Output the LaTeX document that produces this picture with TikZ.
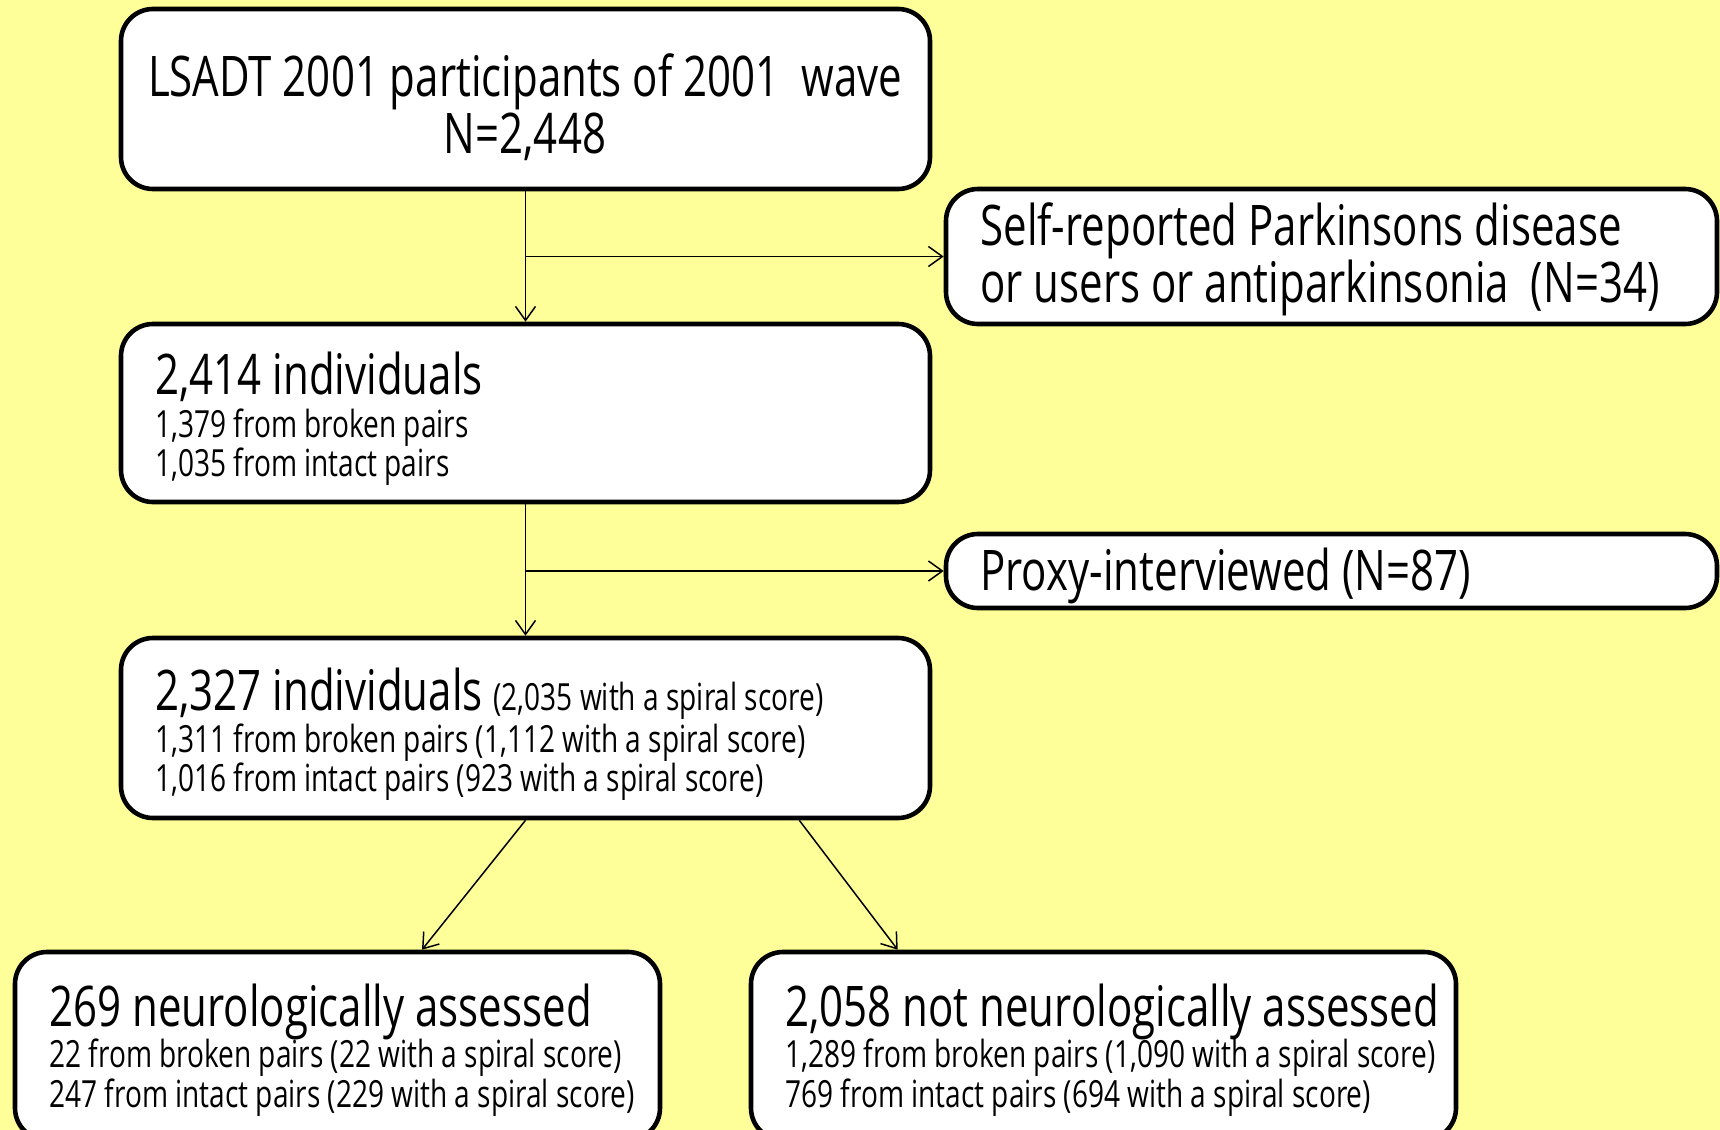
\documentclass[tikz,border=0pt]{standalone}
\usepackage{fontspec}
\setmainfont{Open Sans}[FakeStretch=0.75]
\usetikzlibrary{arrows.meta}
\definecolor{bgyellow}{HTML}{FFFF99}
\tikzset{
  box/.style={draw=black, line width=2.3pt, fill=white, rounded corners=16pt, inner sep=0pt},
  conn/.style={draw=black, line width=0.75pt, -{Straight Barb[length=7pt,width=10pt,line width=0.75pt]}},
  big/.style={font=\fontsize{28}{30}\selectfont, inner sep=0pt},
  sub/.style={font=\fontsize{18.7}{21}\selectfont, inner sep=0pt},
}
\begin{document}
\begin{tikzpicture}[x=0.5pt,y=-0.5pt]
\fill[bgyellow] (0,0) rectangle (1720,1130);
\useasboundingbox (0,0) rectangle (1720,1130);
\clip (0,0) rectangle (1720,1130);
% boxes
\node[box, minimum width=404.5pt, minimum height=90pt] (b1) at (525.5,99) {};
\node[box, minimum width=385.5pt, minimum height=67.5pt] (b2) at (1331.5,256.5) {};
\node[box, minimum width=404.5pt, minimum height=89pt] (b3) at (525.5,413) {};
\node[box, minimum width=385.5pt, minimum height=37pt] (b4) at (1331.5,571) {};
\node[box, minimum width=404.5pt, minimum height=90pt] (b5) at (525.5,728) {};
\node[box, minimum width=322.5pt, minimum height=94pt] (b6) at (337.5,1046) {};
\node[box, minimum width=352.5pt, minimum height=94pt] (b7) at (1103.5,1046) {};
% texts
\node[big, anchor=base] (t1a) at (525,96) {LSADT 2001 participants of 2001~ wave};
\node[big, anchor=base] (t1b) at (525,153) {N=2,448};
\node[big, anchor=base west] (t2a) at (980,245) {Self-reported Parkinsons disease};
\node[big, anchor=base west] (t2b) at (980,302) {or users or antiparkinsonia~ (N=34)};
\node[big, anchor=base west] (t3a) at (155,394) {2,414 individuals};
\node[sub, anchor=base west] (t3b) at (155,437) {1,379 from broken pairs};
\node[sub, anchor=base west] (t3c) at (155,476) {1,035 from intact pairs};
\node[big, anchor=base west] (t4a) at (980,590) {Proxy-interviewed (N=87)};
\node[big, anchor=base west] (t5a) at (155,710) {2,327 individuals {\fontsize{18.7}{21}\selectfont (2,035 with a spiral score)}};
\node[sub, anchor=base west] (t5b) at (155,752) {1,311 from broken pairs (1,112 with a spiral score)};
\node[sub, anchor=base west] (t5c) at (155,791) {1,016 from intact pairs (923 with a spiral score)};
\node[big, anchor=base west] (t6a) at (49,1026) {269 neurologically assessed};
\node[sub, anchor=base west] (t6b) at (49,1067) {22 from broken pairs (22 with a spiral score)};
\node[sub, anchor=base west] (t6c) at (49,1107) {247 from intact pairs (229 with a spiral score)};
\node[big, anchor=base west] (t7a) at (785,1026) {2,058 not neurologically assessed};
\node[sub, anchor=base west] (t7b) at (785,1067) {1,289 from broken pairs (1,090 with a spiral score)};
\node[sub, anchor=base west] (t7c) at (785,1107) {769 from intact pairs (694 with a spiral score)};
% junctions
\coordinate (j1) at (b1.south |- b2.west);
\coordinate (j2) at (b3.south |- b4.west);
% connectors
\draw[conn] (b1.south) -- (b3.north);
\draw[conn] (j1) -- (b2.west);
\draw[conn] (b3.south) -- (b5.north);
\draw[conn] (j2) -- (b4.west);
\draw[conn] (b5.south) -- ([xshift=42.25pt]b6.north);
\draw[conn] ([xshift=-66.5pt]b5.south east) -- ([xshift=74.5pt]b7.north west);
\end{tikzpicture}
\end{document}
